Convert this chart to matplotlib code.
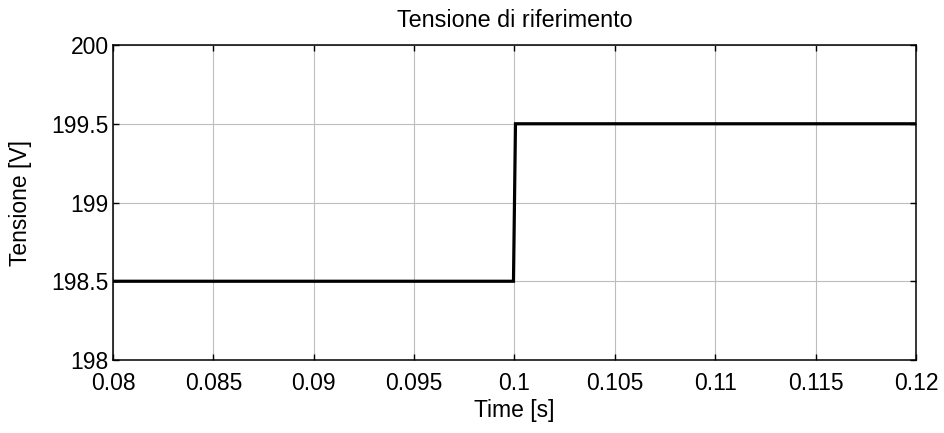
import matplotlib
matplotlib.use("Agg")
import matplotlib.pyplot as plt

# Reference voltage step signal
time_s = [0.08, 0.09995, 0.10005, 0.12]
voltage_v = [198.5, 198.5, 199.5, 199.5]

x_ticks = [0.08, 0.085, 0.09, 0.095, 0.1, 0.105, 0.11, 0.115, 0.12]
x_tick_labels = ["0.08", "0.085", "0.09", "0.095", "0.1", "0.105", "0.11", "0.115", "0.12"]
y_ticks = [198, 198.5, 199, 199.5, 200]
y_tick_labels = ["198", "198.5", "199", "199.5", "200"]

plt.rcParams["font.family"] = ["Liberation Sans", "DejaVu Sans"]

fig = plt.figure(figsize=(9.44, 4.33), dpi=100)
ax = fig.add_axes([0.1197, 0.1686, 0.8506, 0.7274])

ax.plot(time_s, voltage_v, color="black", linewidth=2.3, solid_joinstyle="miter")

ax.set_xlim(0.08, 0.12)
ax.set_ylim(198, 200)
ax.set_xticks(x_ticks)
ax.set_xticklabels(x_tick_labels)
ax.set_yticks(y_ticks)
ax.set_yticklabels(y_tick_labels)

ax.grid(True, color="#bdbdbd", linewidth=0.8, linestyle="-")
ax.tick_params(direction="in", length=4, width=1, top=True, right=True,
               labelsize=16.5)
ax.tick_params(axis="x", pad=8.5)
ax.tick_params(axis="y", pad=3)
for s in ax.spines.values():
    s.set_linewidth(1.1)

ax.set_title("Tensione di riferimento", fontsize=16.8, pad=13)
ax.set_xlabel("Time [s]", fontsize=16.5, labelpad=3)
ax.set_ylabel("Tensione [V]", fontsize=16.5, labelpad=14)

fig.savefig("out.png", dpi=100, facecolor="white")
